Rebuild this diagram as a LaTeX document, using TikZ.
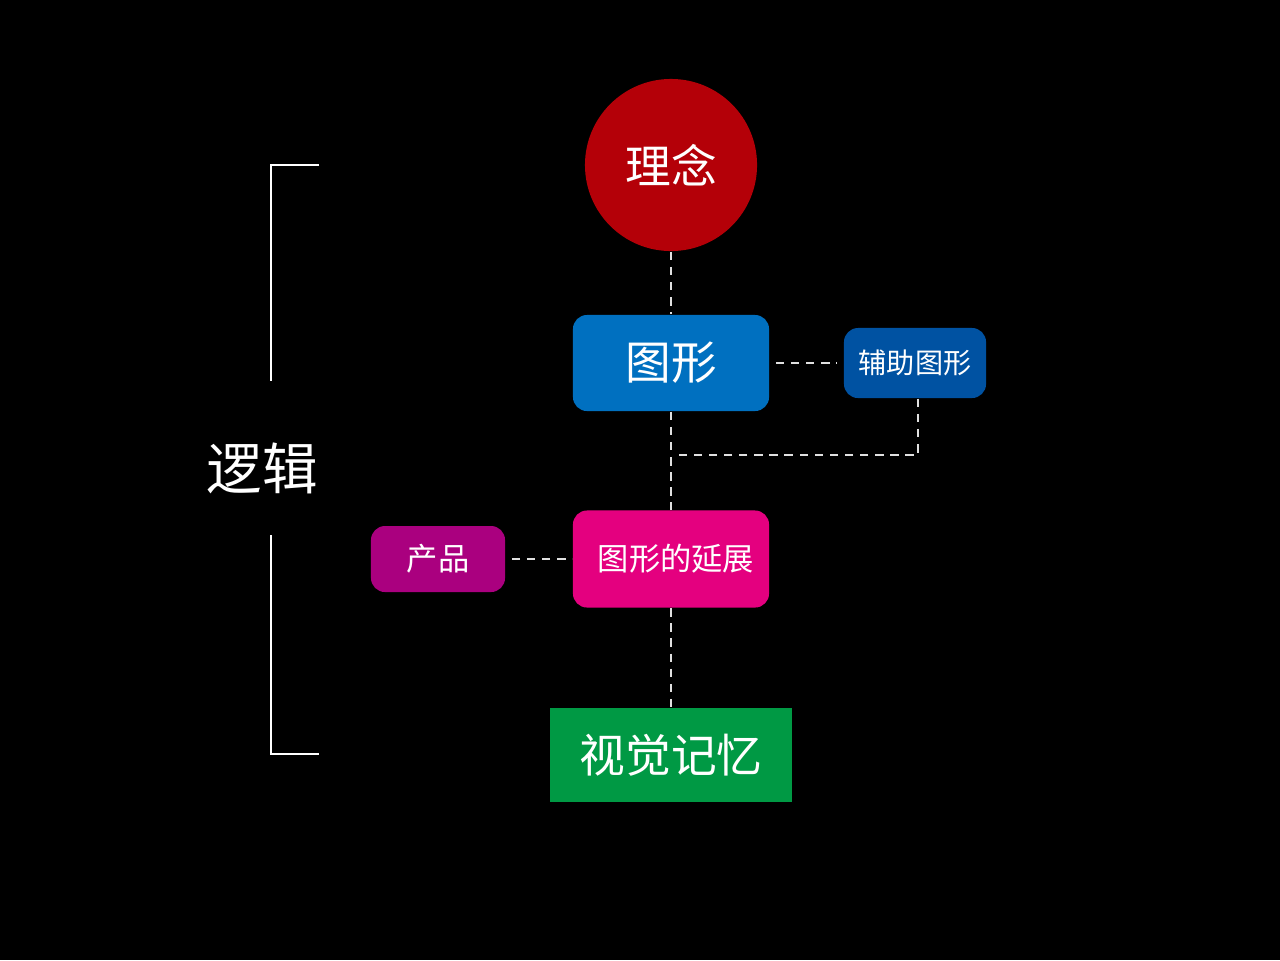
\documentclass[tikz,border=0pt]{standalone}
\usepackage{fontspec}
\newfontfamily\cjk{Noto Sans CJK SC}
\usetikzlibrary{positioning, calc}
\usepackage{xcolor}
\definecolor{ideared}{HTML}{B40008}
\definecolor{shapeblue}{HTML}{0070C0}
\definecolor{auxblue}{HTML}{0052A2}
\definecolor{extpink}{HTML}{E4007F}
\definecolor{prodpurple}{HTML}{AA007F}
\definecolor{memgreen}{HTML}{009944}

\begin{document}
\begin{tikzpicture}[x=0.01cm, y=-0.01cm,
  block/.style={rounded corners=4pt, text=white, font=\cjk, inner sep=0pt},
  link/.style={white!88!black, line width=0.45pt, dash pattern=on 2.4pt off 1.9pt},
  brace/.style={white, line width=0.6pt}]
  \fill[black] (0,0) rectangle (1280,960);
  \useasboundingbox (0,0) rectangle (1280,960);

  % main column
  \node[circle, fill=ideared, minimum size=1.72cm, inner sep=0pt,
  text=white, font=\cjk\fontsize{13pt}{13pt}\selectfont]
  (idea) at (671,165) {理念};
  \node[block, fill=shapeblue, minimum width=1.96cm, minimum height=0.96cm,
  font=\cjk\fontsize{13pt}{13pt}\selectfont]
  (shape) at (671,363) {图形};
  \node[block, fill=auxblue, minimum width=1.42cm, minimum height=0.70cm,
  font=\cjk\fontsize{8pt}{8pt}\selectfont]
  (aux) at (915,363) {辅助图形};
  \node[block, fill=extpink, minimum width=1.96cm, minimum height=0.97cm,
  font=\cjk\fontsize{8.9pt}{8.9pt}\selectfont]
  (ext) at (671,559) {\hspace{0.1cm}图形的延展};
  \node[block, fill=prodpurple, minimum width=1.34cm, minimum height=0.66cm,
  font=\cjk\fontsize{8.9pt}{8.9pt}\selectfont]
  (prod) at (438,559) {产品};
  \node[fill=memgreen, minimum width=2.42cm, minimum height=0.94cm,
  inner sep=0pt, text=white, font=\cjk\fontsize{13pt}{13pt}\selectfont]
  (memory) at (671,755) {视觉记忆};
  \coordinate (join) at (676,455);

  \draw[link] (idea) -- (shape);
  \draw[link, shorten <=0.06cm, shorten >=0.06cm] (shape) -- (aux);
  \draw[link] (shape) -- (ext);
  \draw[link] ($(aux.south)+(3,0)$) |- (join);
  \draw[link, shorten <=0.06cm] (prod) -- (ext);
  \draw[link] (ext) -- (memory);

  % logic bracket
  \node[text=white, font=\cjk\fontsize{15.8pt}{15.8pt}\selectfont]
  (logic) at (262,468) {逻辑};
  \draw[brace] (319,165) -- (271,165) -- (271,381);
  \draw[brace] (271,535) -- (271,754) -- (319,754);
\end{tikzpicture}
\end{document}
